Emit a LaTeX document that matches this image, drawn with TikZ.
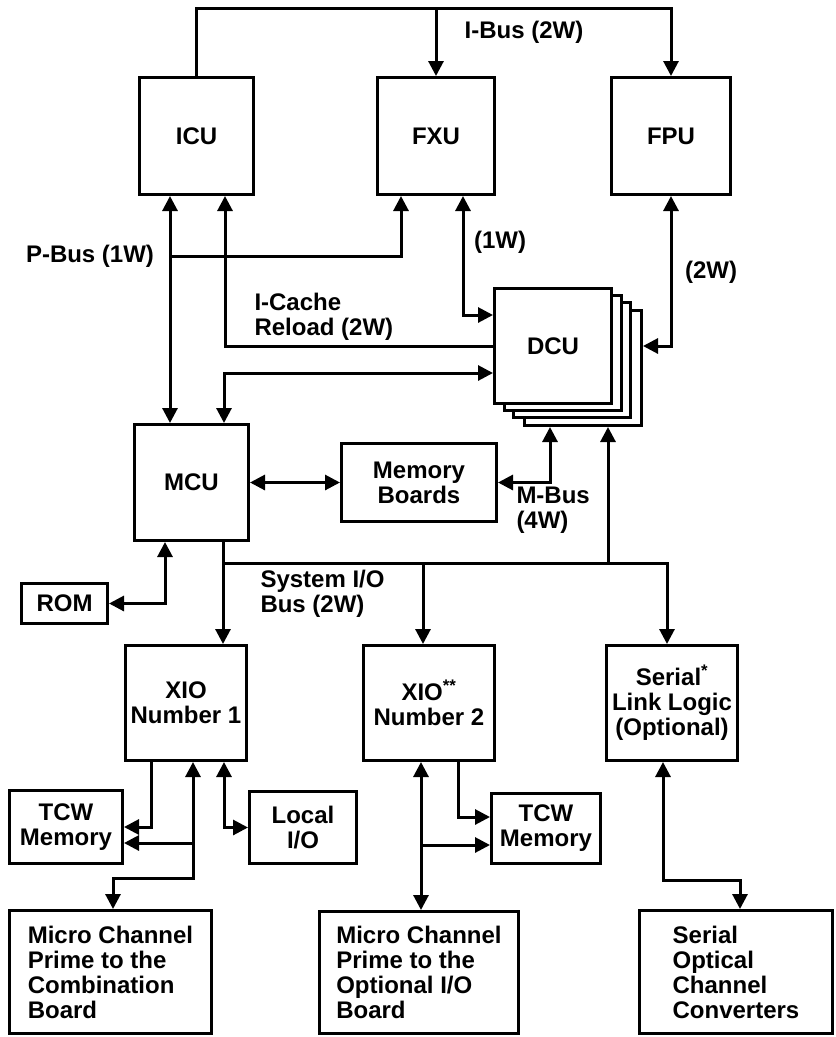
\documentclass[tikz,border=0pt]{standalone}
\usepackage{fontspec}
\setmainfont{Liberation Sans}
\usetikzlibrary{arrows.meta}

\begin{document}
\begin{tikzpicture}[x=1pt,y=-1pt,>={Triangle[length=15pt,width=15pt]},line width=3pt,
    font=\fontsize{24}{25}\selectfont\bfseries,
    unit/.style={draw,fill=white,align=center,inner sep=0pt},
    txt/.style={align=left,inner sep=0pt}]
  \useasboundingbox (0,0) rectangle (836,1037);

  % processor units
  \node[unit,minimum width=114,minimum height=117] (icu) at (196.5,136) {ICU};
  \node[unit,minimum width=117,minimum height=117] (fxu) at (436,136) {FXU};
  \node[unit,minimum width=119,minimum height=117] (fpu) at (671,136) {FPU};

  % stacked DCU
  \node[unit,minimum width=117,minimum height=115] (dcu3) at (583,368) {};
  \node[unit,minimum width=117,minimum height=115] (dcu2) at (572,360) {};
  \node[unit,minimum width=117,minimum height=115] (dcu1) at (563,353) {};
  \node[unit,minimum width=117,minimum height=115] (dcu) at (553,346) {DCU};

  % memory side
  \node[unit,minimum width=114,minimum height=116] (mcu) at (191.5,482.5) {MCU};
  \node[unit,minimum width=155,minimum height=78] (mem) at (419,482.5) {Memory\\Boards};
  \node[unit,minimum width=86,minimum height=40] (rom) at (64.5,603.5) {ROM};

  % I/O units
  \node[unit,minimum width=121,minimum height=115] (xio1) at (186,703) {XIO\\Number 1};
  \node[unit,minimum width=131,minimum height=115] (xio2) at (429,703) {XIO\textsuperscript{**}\\Number 2};
  \node[unit,minimum width=131,minimum height=115] (serial) at (672,703) {Serial\textsuperscript{*}\\Link Logic\\(Optional)};
  \node[unit,minimum width=113,minimum height=73] (tcw1) at (66,827) {TCW\\Memory};
  \node[unit,minimum width=107,minimum height=72] (local) at (303,827.5) {Local\\I/O};
  \node[unit,minimum width=109,minimum height=70] (tcw2) at (546,828.5) {TCW\\Memory};
  \node[unit,align=left,minimum width=202,minimum height=123] (mc1) at (110.5,972) {Micro Channel\\Prime to the\\Combination\\Board};
  \node[unit,align=left,minimum width=199,minimum height=122] (mc2) at (419,972.5) {Micro Channel\\Prime to the\\Optional I/O\\Board};
  \node[unit,align=left,minimum width=193,minimum height=123] (soc) at (736,972) {Serial\\Optical\\Channel\\Converters};

  % I-Bus
  \coordinate (ibus) at (196.5,8);
  \draw[->] (icu.north) -- (ibus) -| (fpu.north);
  \draw[->] (fxu.north |- ibus) -- (fxu.north);
  \node at (524,32) {I-Bus (2W)};

  % P-Bus
  \coordinate (pbus) at (170,256);
  \draw[<->] (icu.south -| pbus) -- (mcu.north -| pbus);
  \draw[->] (pbus) -| ([xshift=-35pt]fxu.south);
  \node at (90,256) {P-Bus (1W)};

  % I-Cache reload
  \draw[<-] ([xshift=28.5pt]icu.south) |- (dcu.west);
  \node[txt,anchor=west] at (253,317) {I-Cache\\Reload (2W)};

  % DCU links
  \draw[<->] ([xshift=32.5pt]mcu.north) |- ([yshift=-27pt]dcu.west);
  \draw[<->] ([xshift=27pt]fxu.south) |- ([yshift=31pt]dcu.west);
  \node at (500,242) {(1W)};
  \draw[<->] (fpu.south) |- (dcu3.east |- dcu.west);
  \node at (711,272) {(2W)};

  % M-Bus
  \draw[<->] ([xshift=-33pt]dcu3.south) |- (mem.east);
  \node[txt,anchor=west] at (515,510) {M-Bus\\(4W)};
  \draw[<->] (mcu.east) -- (mem.west);

  % system I/O bus
  \coordinate (sio) at (223,563);
  \coordinate (sio2) at (423,563);
  \coordinate (sio3) at (608,563);
  \draw[->] (mcu.south -| sio) -- (xio1.north -| sio);
  \draw[->] (sio) -| ([xshift=-5pt]serial.north);
  \draw[->] (sio2) -- (xio2.north -| sio2);
  \draw[->] (sio3) -- (dcu3.south -| sio3);
  \node[txt,anchor=west] at (259,594) {System I/O\\Bus (2W)};
  \draw[<->] ([xshift=-26.5pt]mcu.south) |- (rom.east);

  % XIO 1
  \draw[->] ([xshift=-35pt]xio1.south) |- (tcw1.east);
  \coordinate (x1b) at ([xshift=7pt]xio1.south);
  \draw[<->] (x1b) -- ++(0,116) -| ([xshift=2.5pt]mc1.north);
  \coordinate (t1in) at ([yshift=-16pt]tcw1.east);
  \draw[->] (x1b |- t1in) -- (t1in);
  \draw[<->] ([xshift=38pt]xio1.south) |- (local.west);

  % XIO 2
  \coordinate (x2b) at ([xshift=-8pt]xio2.south);
  \draw[<->] (x2b) -- (x2b |- mc2.north);
  \draw[->] ([xshift=29pt]xio2.south) |- ([yshift=11.5pt]tcw2.west);
  \coordinate (t2in) at ([yshift=-16.5pt]tcw2.west);
  \draw[->] (x2b |- t2in) -- (t2in);

  % serial link
  \draw[<->] ([xshift=-9pt]serial.south) -- ++(0,118) -| ([xshift=4pt]soc.north);
\end{tikzpicture}
\end{document}
